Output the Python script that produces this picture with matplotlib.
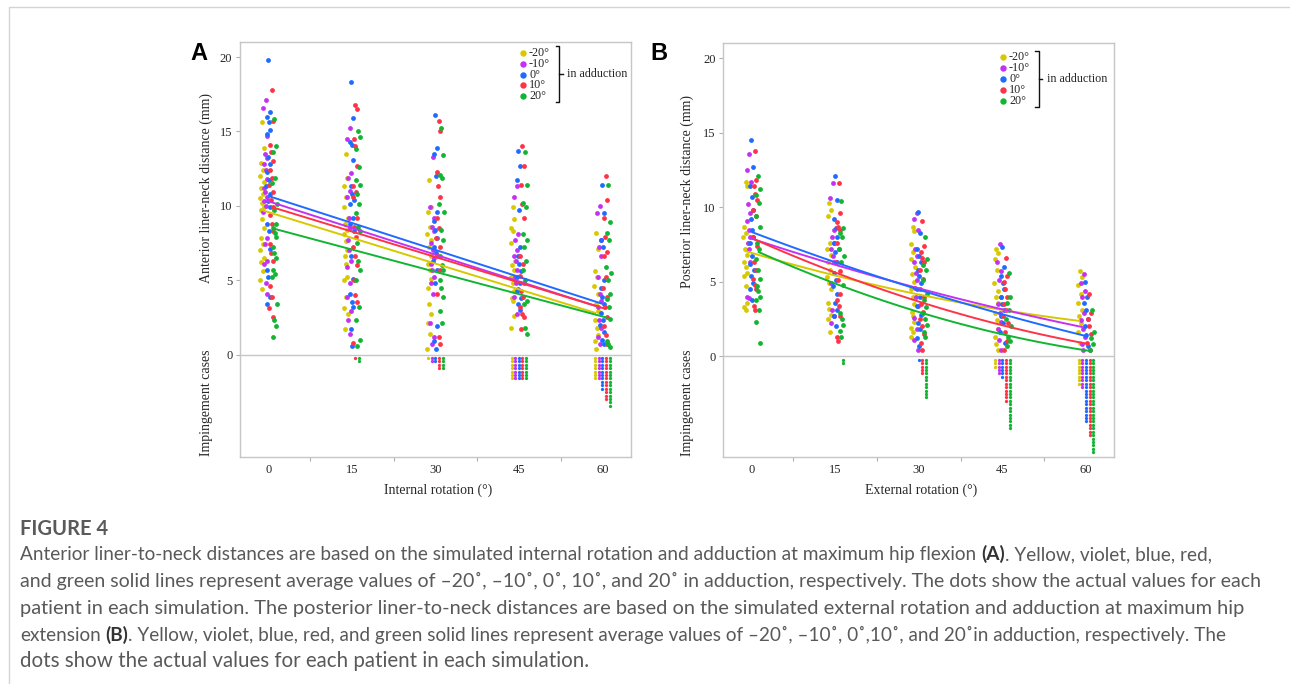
import numpy as np
import matplotlib
matplotlib.use("Agg")
import matplotlib.pyplot as plt
from matplotlib.lines import Line2D

# ---------------------------------------------------------------- data
ROTATIONS = [0, 15, 30, 45, 60]
ADDUCTION_LABELS = ["-20°", "-10°", "0°", "10°", "20°"]
COLORS = ["#d8c800", "#c531f2", "#1f6bff", "#ff3347", "#12b531"]

# Panel A: anterior liner-neck distance (mm), per rotation, per adduction
A_ADD_M20 = [
    [15.6, 13.9, 12.9, 12.4, 12.0, 11.6, 11.2, 10.8, 10.5, 10.2, 9.9, 9.7, 9.1, 8.5, 7.8, 7.4, 7.0, 6.5, 6.2, 5.6, 5.0, 4.4],
    [13.5, 11.9, 11.3, 10.6, 9.9, 9.2, 8.8, 8.4, 8.1, 7.6, 7.0, 6.6, 6.1, 5.2, 5.0, 3.9, 3.1, 2.7, 1.7],
    [11.7, 9.9, 9.6, 8.6, 8.1, 7.7, 7.2, 6.6, 6.1, 5.7, 5.1, 4.5, 3.4, 2.7, 2.1, 1.4, 0.4],
    [9.9, 9.1, 8.5, 8.3, 7.5, 6.3, 6.0, 5.7, 5.2, 4.8, 4.3, 3.8, 3.6, 2.6, 1.8],
    [8.2, 7.1, 5.6, 5.2, 4.6, 4.1, 3.4, 2.9, 2.3, 1.8, 1.3, 0.9, 0.4],
]
A_ADD_M10 = [
    [17.1, 16.6, 14.7, 13.5, 13.2, 12.8, 12.4, 11.8, 11.2, 10.9, 10.6, 10.3, 10.0, 9.6, 7.8, 7.4, 6.3, 6.1, 4.8, 4.1],
    [15.2, 14.5, 12.2, 11.9, 11.0, 10.6, 9.2, 8.5, 7.7, 7.0, 6.3, 5.9, 4.8, 3.9, 2.9, 2.3, 1.4],
    [13.3, 9.9, 9.2, 8.6, 8.3, 7.5, 7.0, 6.5, 6.1, 5.7, 5.2, 4.8, 4.1, 2.1, 1.2, 0.7],
    [11.3, 10.6, 8.1, 7.7, 7.0, 6.6, 6.3, 5.7, 5.2, 4.8, 4.4, 3.9, 2.7],
    [10.0, 9.5, 7.7, 7.2, 6.6, 5.2, 4.1, 3.6, 3.2, 2.3, 1.8, 1.2, 0.7],
]
A_ADD_0 = [
    [19.8, 16.3, 16.0, 15.6, 15.1, 14.8, 13.3, 12.8, 12.3, 11.7, 11.3, 10.8, 10.3, 9.9, 8.8, 8.3, 7.1, 5.7, 5.2, 3.9, 3.4],
    [18.3, 15.9, 14.3, 14.1, 13.1, 11.3, 10.8, 10.4, 10.1, 9.2, 8.8, 8.3, 6.6, 5.1, 4.1, 3.5, 3.2, 1.7, 0.6],
    [16.1, 13.9, 13.5, 12.0, 9.6, 9.0, 8.4, 7.8, 7.2, 6.8, 6.3, 5.7, 4.8, 1.9, 0.9, 0.4],
    [13.7, 12.7, 11.7, 9.7, 7.2, 6.6, 6.1, 5.6, 5.2, 4.8, 4.3, 3.8, 3.4, 3.0],
    [11.4, 9.5, 7.7, 7.2, 5.0, 4.5, 3.9, 3.4, 2.8, 2.3, 2.0, 1.5, 1.0, 0.7],
]
A_ADD_10 = [
    [17.8, 15.7, 14.1, 13.6, 13.0, 12.4, 11.9, 11.4, 10.9, 10.4, 9.9, 9.4, 8.8, 8.3, 7.4, 6.8, 6.3, 4.6, 3.9, 3.1, 2.5],
    [16.8, 16.5, 14.5, 14.0, 12.7, 11.3, 10.9, 10.6, 9.2, 8.6, 7.9, 7.2, 6.6, 6.0, 5.0, 4.0, 3.5, 0.8],
    [15.7, 15.0, 12.3, 11.3, 10.6, 9.2, 8.5, 7.8, 7.2, 6.6, 5.7, 4.1, 1.2, 0.7],
    [14.0, 12.7, 11.4, 10.1, 9.2, 6.6, 6.1, 5.3, 4.8, 4.3, 3.9, 3.2, 2.7, 2.5, 1.7],
    [12.0, 10.4, 9.2, 7.9, 6.9, 6.6, 5.2, 4.5, 3.9, 3.2, 2.5, 1.9, 1.3, 0.7],
]
A_ADD_20 = [
    [15.8, 14.0, 13.6, 11.9, 11.5, 10.1, 9.7, 8.8, 8.5, 8.2, 7.9, 7.2, 6.8, 6.5, 5.7, 5.4, 5.2, 3.4, 2.3, 1.9, 1.2],
    [15.0, 14.6, 13.8, 12.6, 11.7, 11.4, 10.8, 10.1, 9.5, 8.6, 8.3, 7.5, 6.3, 5.7, 5.0, 3.2, 2.3, 1.0, 0.6],
    [15.2, 13.4, 12.1, 11.9, 10.1, 9.6, 8.4, 7.7, 6.6, 6.0, 5.7, 5.0, 4.5, 3.9, 2.9, 2.1],
    [13.6, 11.4, 10.2, 9.9, 8.1, 7.7, 7.2, 6.3, 5.7, 5.0, 3.6, 3.4, 1.8, 1.4],
    [11.4, 8.9, 8.2, 7.7, 5.9, 5.5, 5.0, 4.1, 3.7, 3.2, 2.4, 0.9, 0.7, 0.5],
]
# impingement cases per rotation
A_CASES_M20 = [0, 0, 1, 7, 7]
A_CASES_M10 = [0, 0, 2, 7, 7]
A_CASES_0 = [0, 0, 2, 7, 10]
A_CASES_10 = [0, 1, 4, 7, 13]
A_CASES_20 = [0, 2, 4, 7, 15]
# linear average lines (values at 0° and 60°)
A_FIT_X = [0, 60]
A_FIT_M20 = [9.70, 2.78]
A_FIT_M10 = [10.37, 3.19]
A_FIT_0 = [10.66, 3.41]
A_FIT_10 = [9.92, 3.07]
A_FIT_20 = [8.45, 2.45]

# Panel B: posterior liner-neck distance (mm)
B_ADD_M20 = [
    [11.7, 11.4, 8.7, 8.3, 8.0, 7.6, 7.2, 6.8, 6.3, 6.0, 5.6, 5.4, 4.7, 3.6, 3.3, 3.1],
    [10.3, 9.8, 9.4, 7.6, 7.2, 6.8, 6.3, 5.8, 5.3, 4.9, 4.5, 3.6, 3.2, 2.8, 2.5, 1.6],
    [8.7, 8.4, 7.5, 7.0, 6.5, 6.0, 5.5, 5.0, 4.5, 4.0, 3.5, 3.0, 2.7, 2.3, 1.9, 1.6, 1.3],
    [7.2, 6.9, 6.5, 5.8, 4.9, 4.4, 4.0, 3.6, 2.9, 2.4, 1.8, 1.3, 0.8, 0.4],
    [5.7, 5.3, 4.8, 4.2, 3.6, 3.1, 2.7, 2.2, 1.6, 0.9],
]
B_ADD_M10 = [
    [13.6, 12.5, 11.7, 10.2, 9.6, 9.1, 8.5, 8.0, 7.6, 7.2, 6.3, 4.0, 3.9],
    [11.6, 10.6, 8.5, 8.0, 7.6, 7.2, 6.7, 6.3, 4.9, 3.1, 2.7, 2.2],
    [9.6, 9.2, 8.5, 7.2, 6.7, 6.3, 5.6, 5.1, 4.6, 4.0, 3.4, 2.6, 1.8, 1.1, 0.4],
    [7.5, 6.3, 5.7, 5.1, 4.0, 3.5, 2.9, 2.3, 1.8, 1.1, 0.4],
    [5.5, 4.9, 4.4, 4.0, 2.9, 2.4, 1.8, 1.3, 0.8, 0.4],
]
B_ADD_0 = [
    [14.5, 12.7, 11.4, 10.7, 9.8, 9.2, 8.5, 8.0, 7.6, 6.7, 6.2, 5.8, 5.4, 4.9, 4.5, 3.8],
    [12.1, 10.5, 9.2, 8.6, 8.0, 7.6, 7.0, 6.3, 5.6, 5.1, 4.7, 4.2, 3.6, 3.1, 2.7, 2.0],
    [9.7, 8.3, 7.2, 6.7, 6.3, 5.8, 5.4, 4.9, 4.5, 4.0, 3.4, 2.8, 2.2, 1.8, 1.2, 0.7],
    [7.3, 6.0, 5.4, 4.9, 4.5, 4.0, 3.5, 3.1, 2.7, 2.2, 1.6, 0.9],
    [5.0, 4.0, 3.6, 3.1, 2.5, 2.0, 1.4, 0.7],
]
B_ADD_10 = [
    [13.8, 11.8, 11.4, 10.9, 10.5, 9.8, 9.4, 8.0, 7.4, 6.3, 5.8, 5.2, 4.8, 4.5, 3.4, 3.1],
    [11.6, 9.6, 9.0, 8.7, 8.5, 7.6, 7.2, 6.3, 5.7, 5.1, 4.2, 3.8, 3.4, 2.7, 1.3, 1.0],
    [9.1, 7.4, 7.0, 6.6, 6.3, 5.8, 5.2, 4.5, 4.0, 3.5, 3.0, 2.5, 2.0, 1.5, 0.9, 0.4],
    [6.6, 5.4, 5.0, 4.5, 4.0, 3.5, 3.1, 2.7, 2.2, 1.6, 1.0, 0.4],
    [4.2, 2.9, 2.5, 2.0, 1.5, 0.9, 0.4],
]
B_ADD_20 = [
    [12.1, 11.2, 10.8, 10.3, 9.4, 8.7, 7.6, 7.2, 6.5, 5.8, 5.2, 4.7, 4.4, 4.0, 3.8, 3.1, 2.3, 0.9],
    [10.4, 8.6, 8.3, 8.0, 7.2, 6.7, 6.3, 4.8, 2.9, 2.5, 2.1, 1.7, 1.3],
    [8.0, 6.5, 6.1, 5.8, 5.1, 4.2, 3.8, 3.3, 2.9, 2.5, 2.1, 1.6, 1.3],
    [5.6, 4.0, 3.6, 3.1, 2.5, 2.0, 1.3, 1.0, 0.7],
    [3.1, 1.6, 1.2, 0.8, 0.4],
]
B_CASES_M20 = [0, 0, 0, 3, 8]
B_CASES_M10 = [0, 0, 0, 5, 9]
B_CASES_0 = [0, 0, 1, 6, 19]
B_CASES_10 = [0, 0, 5, 13, 23]
B_CASES_20 = [0, 2, 12, 21, 28]
# average curves (values at each rotation)
B_FIT_X = [0, 15, 30, 45, 60]
B_FIT_M20 = [7.04, 5.54, 4.25, 3.13, 2.39]
B_FIT_M10 = [7.93, 6.26, 4.58, 3.17, 1.97]
B_FIT_0 = [8.27, 6.48, 4.36, 2.79, 1.39]
B_FIT_10 = [7.82, 5.59, 3.58, 2.01, 0.83]
B_FIT_20 = [6.97, 4.80, 2.90, 1.23, 0.40]

# ---------------------------------------------------------------- layout
W, H, DPI = 1290, 684, 100
SERIF = "Liberation Serif"
plt.rcParams["font.family"] = [SERIF, "DejaVu Serif"]

DOT_SHIFT = [-1.1, -0.55, 0.0, 0.55, 1.1]      # column offset per adduction (deg)
CASE_SHIFT = [-1.3, -0.65, 0.0, 0.65, 1.3]     # impingement column offset (deg)
JITTER = [0.0, 0.32, -0.28, 0.14, -0.38, 0.38, -0.12, 0.24, -0.3, 0.06, 0.3, -0.2]
ROW_GAP = 0.23                                 # spacing of stacked case dots
TEXT_COLOR = "#262626"
FRAME_GRAY = "#c6c6c6"

fig = plt.figure(figsize=(W / DPI, H / DPI), dpi=DPI)


def fx(x):
    return x / W


def fy(y):
    return 1 - y / H


def draw_panel(box, xlim, ylim, groups, cases, fit_x, fits, curved):
    left, top, right, bottom = box
    ax = fig.add_axes([fx(left), fy(bottom), (right - left) / W, (bottom - top) / H])
    ax.set_xlim(*xlim)
    ax.set_ylim(*ylim)

    for ci, (series, color) in enumerate(zip(groups, COLORS)):
        for rot, vals in zip(ROTATIONS, series):
            n = len(vals)
            jit = np.array([JITTER[(k + 3 * ci) % len(JITTER)] for k in range(n)])
            ax.scatter(rot + DOT_SHIFT[ci] + jit, vals, s=12, color=color,
                       linewidths=0, zorder=2)

    for ci, (counts, color) in enumerate(zip(cases, COLORS)):
        for rot, cnt in zip(ROTATIONS, counts):
            if cnt:
                ys = -ROW_GAP * np.arange(1, cnt + 1)
                ax.scatter(np.full(cnt, rot + CASE_SHIFT[ci]), ys, s=5.5,
                           color=color, linewidths=0, zorder=2)

    for ci, (fit, color) in enumerate(zip(fits, COLORS)):
        if curved:
            coef = np.polyfit(fit_x, fit, 2)
            xs = np.linspace(fit_x[0], fit_x[-1], 121)
            ys = np.polyval(coef, xs)
        else:
            xs, ys = np.asarray(fit_x, float), np.asarray(fit, float)
        ax.plot(xs + DOT_SHIFT[ci], ys, color=color, lw=1.4, zorder=3,
                solid_capstyle="butt")

    ax.axhline(0, color=FRAME_GRAY, lw=1.0, zorder=1)
    for sp in ax.spines.values():
        sp.set_color(FRAME_GRAY)
        sp.set_linewidth(1.0)
    ax.set_yticks([0, 5, 10, 15, 20])
    ax.set_xticks(ROTATIONS)
    ax.set_xticks([7.5, 22.5, 37.5, 52.5], minor=True)
    ax.tick_params(axis="y", length=3, width=0.8, color="#b0b0b0", pad=2.5,
                   labelsize=9, labelcolor=TEXT_COLOR)
    ax.tick_params(axis="x", which="major", length=0, pad=5.5, labelsize=9,
                   labelcolor=TEXT_COLOR)
    ax.tick_params(axis="x", which="minor", length=3, width=0.8, color="#b0b0b0")
    return ax


def draw_key(dot_x, row0, gap, bracket_x, label_x):
    for i, (lab, color) in enumerate(zip(ADDUCTION_LABELS, COLORS)):
        y = row0 + i * gap
        fig.add_artist(Line2D([fx(dot_x)], [fy(y)], marker="o", ms=4.6,
                              linestyle="none", color=color, mec="none",
                              transform=fig.transFigure))
        fig.text(fx(dot_x + 6), fy(y), lab, ha="left", va="center",
                 fontsize=8.7, color=TEXT_COLOR)
    top, bot = row0 - 6.5, row0 + 4 * gap + 6.0
    mid = (top + bot) / 2
    bx = [bracket_x - 3.5, bracket_x, bracket_x, bracket_x - 3.5]
    by = [top, top, bot, bot]
    fig.add_artist(Line2D([fx(v) for v in bx], [fy(v) for v in by], color="#111111",
                          lw=1.0, transform=fig.transFigure))
    fig.add_artist(Line2D([fx(bracket_x), fx(bracket_x + 3.5)], [fy(mid), fy(mid)],
                          color="#111111", lw=1.0, transform=fig.transFigure))
    fig.text(fx(label_x), fy(mid), "in adduction", ha="left", va="center",
             fontsize=8.7, color=TEXT_COLOR)


# panel A
draw_panel((240, 41.7, 630.7, 456.7), (-5.08, 65.1), (-6.87, 21.03),
           [A_ADD_M20, A_ADD_M10, A_ADD_0, A_ADD_10, A_ADD_20],
           [A_CASES_M20, A_CASES_M10, A_CASES_0, A_CASES_10, A_CASES_20],
           A_FIT_X, [A_FIT_M20, A_FIT_M10, A_FIT_0, A_FIT_10, A_FIT_20], curved=False)
# panel B
draw_panel((723.3, 43.3, 1114, 456.7), (-5.1, 65.03), (-6.74, 21.0),
           [B_ADD_M20, B_ADD_M10, B_ADD_0, B_ADD_10, B_ADD_20],
           [B_CASES_M20, B_CASES_M10, B_CASES_0, B_CASES_10, B_CASES_20],
           B_FIT_X, [B_FIT_M20, B_FIT_M10, B_FIT_0, B_FIT_10, B_FIT_20], curved=True)

draw_key(523, 52.7, 10.9, 559, 567)
draw_key(1003, 57.3, 10.9, 1038.5, 1047)

# panel letters
fig.text(fx(199), fy(53.5), "A", ha="center", va="center", fontsize=17,
         fontweight="bold", family=["Liberation Sans", "DejaVu Sans"], color="#000000")
fig.text(fx(658.5), fy(53.5), "B", ha="center", va="center", fontsize=17,
         fontweight="bold", family=["Liberation Sans", "DejaVu Sans"], color="#000000")

# axis titles
for x, y, s in [(206, 188, "Anterior liner-neck distance (mm)"),
                (206, 403, "Impingement cases"),
                (687.5, 192, "Posterior liner-neck distance (mm)"),
                (687.5, 403, "Impingement cases")]:
    fig.text(fx(x), fy(y), s, rotation=90, ha="center", va="center",
             fontsize=10, color=TEXT_COLOR)
fig.text(fx(438), fy(490), "Internal rotation (°)", ha="center", va="center",
         fontsize=10, color=TEXT_COLOR)
fig.text(fx(921), fy(490), "External rotation (°)", ha="center", va="center",
         fontsize=10, color=TEXT_COLOR)

# outer frame
fig.add_artist(Line2D([fx(9), fx(9), fx(W)], [fy(H), fy(7), fy(7)], color="#d4d4d4",
                      lw=1.0, transform=fig.transFigure))

# ---------------------------------------------------------------- caption
CAP_FONT = ["Lato", "DejaVu Sans"]
CAP_COLOR = "#595959"
BODY_WEIGHT = "normal"
renderer = fig.canvas.get_renderer()


def text_width(s, fs, weight=BODY_WEIGHT):
    t = fig.text(0, 0, s, fontsize=fs, family=CAP_FONT, fontweight=weight)
    w = t.get_window_extent(renderer).width
    t.remove()
    return w


CAPTION = [
    [("Anterior liner-to-neck distances are based on the simulated internal rotation and adduction at maximum hip flexion", False),
     (" ", False), ("(A)", True), (". Yellow, violet, blue, red,", False)],
    [("and green solid lines represent average values of \u201320\u02da, \u201310\u02da, 0\u02da, 10\u02da, and 20\u02da in adduction, respectively. The dots show the actual values for each", False)],
    [("patient in each simulation. The posterior liner-to-neck distances are based on the simulated external rotation and adduction at maximum hip", False)],
    [("extension", False), (" ", False), ("(B)", True),
     (". Yellow, violet, blue, red, and green solid lines represent average values of \u201320\u02da, \u201310\u02da, 0\u02da,10\u02da, and 20\u02dain adduction, respectively. The", False)],
    [("dots show the actual values for each patient in each simulation.", False)],
]
LINE_WIDTHS = [1190, 1242, 1230, 1198, 570]     # target run length of each line (px)
BASELINES = [560, 587, 614, 641, 667]
LEFT = 20.0


def line_width(segs, fs):
    total = 0.0
    space_w = text_width("a a", fs) - text_width("aa", fs)
    for s, bold in segs:
        if s == " ":
            total += space_w
        else:
            total += text_width(s, fs, "bold" if bold else BODY_WEIGHT)
    return total


base_fs = 11.0
common_fs = base_fs * LINE_WIDTHS[2] / line_width(CAPTION[2], base_fs)

fig.text(fx(LEFT), fy(535), "FIGURE 4", ha="left", va="baseline", fontsize=common_fs,
         family=CAP_FONT, fontweight="bold", color="#5a5a5a")

for segs, target, yb in zip(CAPTION, LINE_WIDTHS, BASELINES):
    fs = common_fs * target / line_width(segs, common_fs)
    fs = float(np.clip(fs, 0.94 * common_fs, 1.06 * common_fs))
    space_w = text_width("a a", fs) - text_width("aa", fs)
    x = LEFT
    for s, bold in segs:
        if s == " ":
            x += space_w
            continue
        w = "bold" if bold else BODY_WEIGHT
        fig.text(fx(x), fy(yb), s, ha="left", va="baseline", fontsize=fs,
                 family=CAP_FONT, fontweight=w,
                 color="#333333" if bold else CAP_COLOR)
        x += text_width(s, fs, w)

fig.savefig("out.png", dpi=DPI)
